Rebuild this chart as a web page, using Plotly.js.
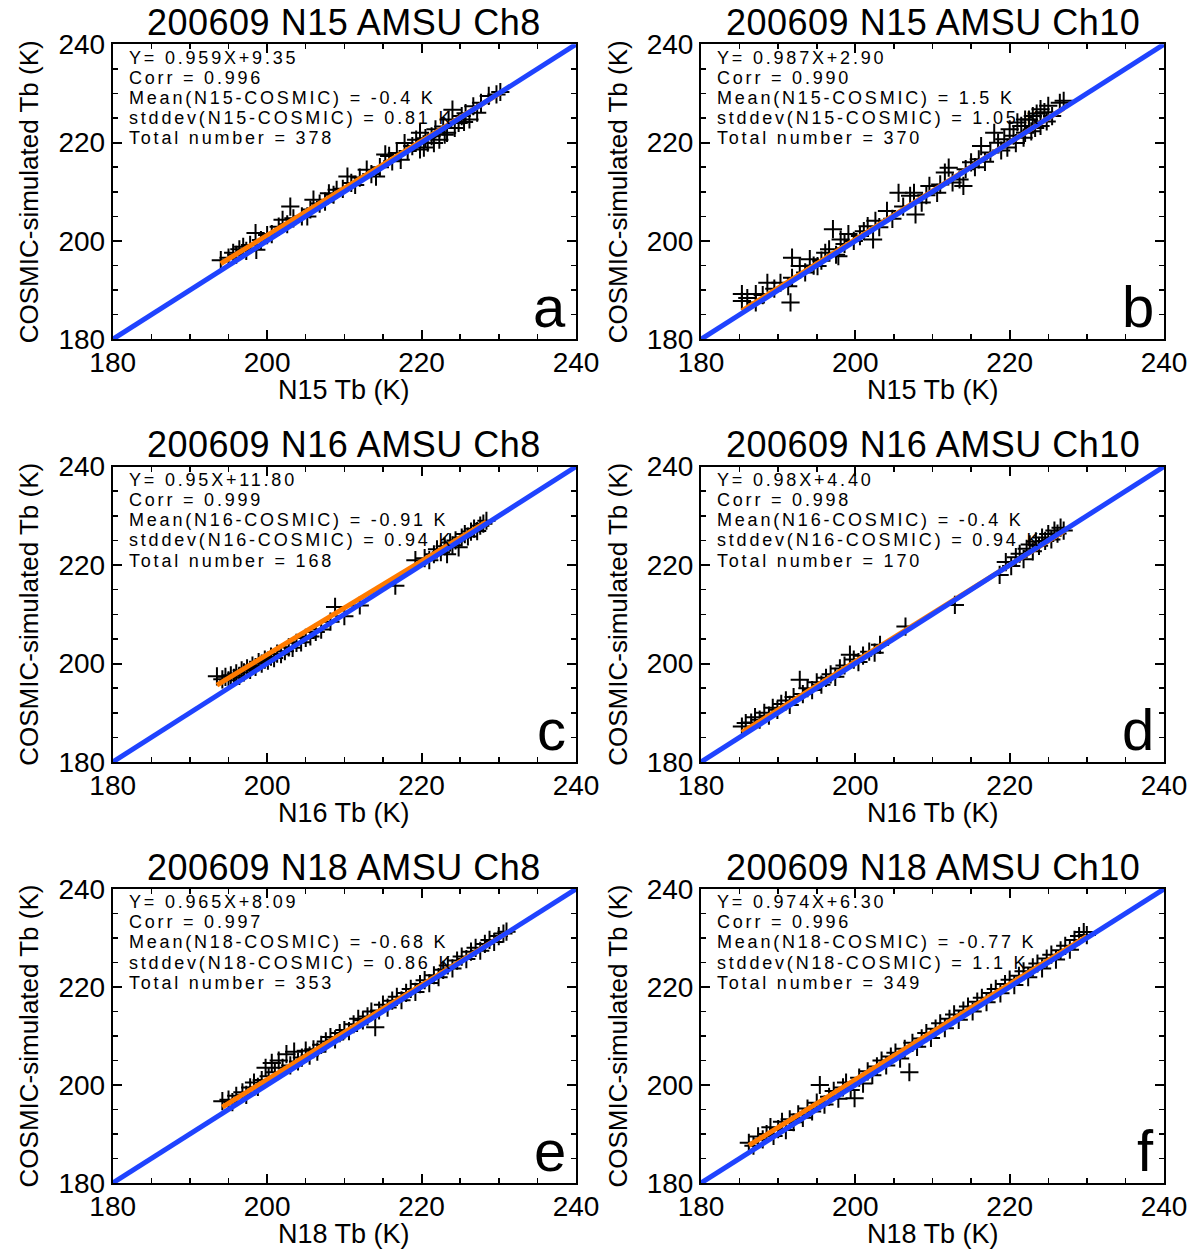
<!DOCTYPE html>
<html>
<head>
<meta charset="utf-8">
<script src="https://cdn.plot.ly/plotly-3.0.1.min.js"></script>
<style>html,body{margin:0;padding:0;background:#fff;}#chart{width:1195px;height:1249px;}</style>
</head>
<body>
<div id="chart"></div>
<script>
// ---------------- data ----------------
var panelTitles = ["200609 N15 AMSU Ch8", "200609 N15 AMSU Ch10", "200609 N16 AMSU Ch8", "200609 N16 AMSU Ch10", "200609 N18 AMSU Ch8", "200609 N18 AMSU Ch10"];
var xTitles = ["N15 Tb (K)", "N15 Tb (K)", "N16 Tb (K)", "N16 Tb (K)", "N18 Tb (K)", "N18 Tb (K)"];
var yTitle = "COSMIC-simulated Tb (K)";
var panelLetters = ["a", "b", "c", "d", "e", "f"];
var fitSlopes = [0.959, 0.987, 0.95, 0.98, 0.965, 0.974];
var fitIntercepts = [9.35, 2.90, 11.80, 4.40, 8.09, 6.30];
var statsA = ["Y= 0.959X+9.35", "Corr = 0.996", "Mean(N15-COSMIC) = -0.4 K", "stddev(N15-COSMIC) = 0.81 K", "Total number = 378"];
var statsB = ["Y= 0.987X+2.90", "Corr = 0.990", "Mean(N15-COSMIC) = 1.5 K", "stddev(N15-COSMIC) = 1.05 K", "Total number = 370"];
var statsC = ["Y= 0.95X+11.80", "Corr = 0.999", "Mean(N16-COSMIC) = -0.91 K", "stddev(N16-COSMIC) = 0.94 K", "Total number = 168"];
var statsD = ["Y= 0.98X+4.40", "Corr = 0.998", "Mean(N16-COSMIC) = -0.4 K", "stddev(N16-COSMIC) = 0.94 K", "Total number = 170"];
var statsE = ["Y= 0.965X+8.09", "Corr = 0.997", "Mean(N18-COSMIC) = -0.68 K", "stddev(N18-COSMIC) = 0.86 K", "Total number = 353"];
var statsF = ["Y= 0.974X+6.30", "Corr = 0.996", "Mean(N18-COSMIC) = -0.77 K", "stddev(N18-COSMIC) = 1.1 K", "Total number = 349"];
var oneToOne = [180, 240];
var axisTicks = [180, 200, 220, 240];

// panel a : N15 Ch8
var aX = [194.0,195.0,195.6,196.0,196.4,196.9,197.3,197.8,198.5,198.6,199.2,200.0,200.6,201.5,202.0,202.6,203.0,203.4,204.5,205.2,205.6,206.0,206.8,207.5,208.0,208.6,209.0,209.8,210.4,210.9,211.4,212.0,212.9,213.5,214.1,214.6,215.3,215.8,216.2,216.8,217.3,217.8,218.2,218.8,219.3,219.8,219.8,220.3,220.5,220.8,221.3,221.6,221.8,222.3,222.8,223.0,223.3,223.5,224.0,224.3,224.8,225.2,225.5,225.7,226.2,226.7,227.2,227.7,228.7,229.7,230.2];
var aY = [196.1,196.6,197.6,197.2,198.3,198.8,198.0,199.2,201.6,198.2,200.2,201.2,201.4,202.9,204.3,203.4,207.0,204.6,205.0,205.0,206.4,208.4,207.6,208.0,209.7,209.4,210.4,210.6,213.1,211.8,211.4,212.9,214.5,213.6,213.1,215.0,217.6,217.3,216.2,217.9,216.5,219.9,218.3,219.3,220.6,222.0,218.6,219.0,220.9,220.0,221.3,219.9,222.7,220.6,223.3,221.6,222.0,224.7,226.7,223.0,224.0,225.4,224.2,226.0,224.7,227.4,226.1,228.1,229.5,229.8,230.3];
// panel b : N15 Ch10
var bX = [185.3,185.3,186.0,187.1,187.1,188.0,188.6,189.5,190.3,191.3,191.6,191.8,191.8,192.8,193.5,194.1,194.6,195.1,195.6,196.1,196.6,197.1,197.5,197.8,198.1,198.6,199.1,199.8,200.6,201.1,201.6,202.3,202.6,203.1,204.1,204.8,205.6,206.2,207.1,207.6,207.8,208.6,209.2,209.6,210.6,211.0,211.6,212.1,212.6,213.5,214.0,214.3,215.0,215.5,216.0,216.3,216.8,217.5,218.0,218.5,218.9,219.3,219.7,220.0,220.5,220.8,221.0,221.5,221.8,222.0,222.0,222.5,222.8,223.0,223.3,223.5,224.0,224.0,224.5,224.8,225.0,225.5,226.5,227.0];
var bY = [187.8,189.2,188.4,189.2,187.5,189.0,191.5,190.3,191.5,190.8,187.5,196.6,192.5,194.9,193.6,196.3,195.0,194.9,196.0,197.6,198.3,202.4,197.2,196.9,200.3,199.4,201.4,200.0,201.0,202.0,203.0,200.3,204.1,202.8,206.1,204.5,209.8,207.0,209.2,209.8,205.4,207.8,209.3,211.2,209.8,211.5,213.9,214.9,211.9,212.5,211.2,214.6,216.0,215.0,216.6,219.3,216.1,218.0,222.0,220.0,218.4,220.7,219.0,222.7,221.4,219.9,224.1,223.4,221.0,222.0,224.7,224.7,222.3,225.4,223.0,225.9,223.4,226.8,226.2,224.3,227.5,225.4,228.1,228.5];
// panel c : N16 Ch8
var cX = [193.5,194.2,194.6,195.0,195.3,195.7,196.0,196.4,196.7,197.0,197.4,197.8,198.1,198.5,198.9,199.3,199.7,200.1,200.5,200.9,201.3,201.8,202.3,202.8,203.3,203.8,204.4,205.0,205.6,206.3,207.0,208.2,208.8,210.0,212.0,216.6,219.2,220.4,221.0,221.6,222.0,222.5,223.0,223.3,223.7,224.0,224.4,224.8,225.2,225.6,226.0,226.4,226.8,227.2,227.6,228.0,228.4];
var cY = [197.4,196.8,197.3,196.6,197.6,197.1,198.0,197.5,198.6,198.2,199.0,198.7,199.6,199.3,200.3,200.0,200.8,200.6,201.4,201.1,202.0,201.9,202.5,203.3,203.2,204.2,204.3,205.2,205.5,206.4,206.9,208.5,211.5,209.6,211.8,215.8,221.0,221.4,221.0,222.2,223.2,222.6,223.8,222.2,224.6,224.0,225.0,223.6,225.6,226.3,225.8,226.8,227.4,226.9,228.0,228.4,229.0];
// panel d : N16 Ch10
var dX = [185.3,185.8,186.5,187.0,187.6,188.2,188.8,189.3,189.9,190.4,191.0,191.5,192.0,192.8,193.2,193.8,194.4,195.0,195.6,196.2,196.8,197.4,198.0,198.6,199.3,199.8,200.4,201.0,201.8,202.5,203.2,206.5,212.9,218.7,219.5,220.2,220.8,221.3,221.8,222.2,222.6,223.0,223.4,223.8,224.2,224.6,225.0,225.4,225.8,226.2,226.6,227.0];
var dY = [187.2,187.9,188.0,189.1,188.6,190.0,189.4,191.0,190.6,191.8,192.5,191.6,193.2,196.7,193.8,195.0,194.6,196.2,195.7,197.1,197.8,197.3,199.0,199.6,201.8,200.8,200.3,201.6,202.4,202.2,203.8,207.5,211.9,218.0,220.6,219.8,221.6,222.3,221.2,223.3,224.2,222.8,224.8,223.9,225.6,224.9,226.3,225.2,227.0,226.4,227.6,227.0];
// panel e : N18 Ch8
var eX = [194.2,195.0,195.5,196.0,196.8,197.3,197.8,198.3,198.8,199.3,199.8,200.2,200.6,201.0,201.5,202.0,202.5,203.0,203.5,204.0,204.5,205.0,205.5,206.0,206.5,207.0,207.6,208.2,208.8,209.4,210.0,210.6,211.2,211.8,212.4,213.0,213.5,214.0,214.5,215.0,215.6,216.2,216.8,217.4,218.0,218.6,219.2,219.8,220.4,221.0,221.6,222.2,222.8,223.4,224.0,224.6,225.2,225.8,226.4,227.0,227.6,228.2,228.8,229.4,230.0,230.6,231.0];
var eY = [196.7,197.0,196.5,197.8,198.5,198.0,199.5,200.5,199.6,201.0,203.5,201.8,204.5,202.6,205.0,203.5,206.3,204.0,206.8,204.8,205.6,207.0,206.0,207.3,206.8,208.2,208.9,209.8,209.3,210.6,211.2,211.0,212.4,213.5,213.2,214.0,215.0,211.8,215.2,216.4,215.8,217.2,218.0,217.3,218.8,219.6,219.0,220.6,221.4,220.8,222.4,222.0,223.5,224.4,223.8,225.4,226.2,225.7,227.2,228.0,227.4,228.8,229.6,229.2,230.4,230.9,231.3];
// panel f : N18 Ch10
var fX = [186.2,186.8,187.4,188.0,188.5,189.0,189.4,190.0,190.5,191.0,191.5,192.0,192.6,193.2,193.8,194.4,195.0,195.4,196.0,196.6,197.2,197.8,198.4,198.8,199.4,199.9,200.5,201.0,201.6,202.2,202.8,203.4,204.0,204.6,205.2,205.8,206.4,207.0,207.4,208.0,208.6,209.2,209.8,210.4,211.0,211.6,212.2,212.8,213.4,214.0,214.6,215.2,215.8,216.4,217.0,217.6,218.2,218.8,219.4,220.0,220.6,221.2,221.8,222.4,223.0,223.6,224.2,224.8,225.4,226.0,226.6,227.2,227.8,228.4,229.0,229.6,230.0];
var fY = [188.2,187.6,189.5,188.9,190.0,191.4,189.6,191.0,192.5,190.8,193.0,192.4,194.0,193.3,195.2,194.6,196.4,200.0,196.0,197.6,198.8,197.2,199.5,200.5,199.0,197.3,201.5,200.3,202.8,202.0,203.8,205.0,204.0,205.8,206.6,205.4,207.4,202.6,208.6,207.8,209.5,210.6,209.6,211.5,212.6,211.6,213.5,214.4,213.3,215.2,216.0,215.0,217.0,217.8,216.9,218.8,219.6,218.7,220.6,221.5,220.4,222.3,223.2,222.0,224.0,224.8,223.8,225.8,226.6,225.6,227.5,228.4,227.6,229.6,230.4,231.2,230.6];

// ---------------- build ----------------
var xsAll = [aX, bX, cX, dX, eX, fX];
var ysAll = [aY, bY, cY, dY, eY, fY];
var statsAll = [statsA, statsB, statsC, statsD, statsE, statsF];

var W = 1195, H = 1249;
var colPx = [[112.7, 576], [701, 1164]];
var rowPx = [[44.3, 339.3], [466.6, 762], [889, 1183]];
var FONT = "Liberation Sans, Arial, Helvetica, sans-serif";
var BLUE = "#1f43ff";
var ORANGE = "#ff7b00";

var traces = [];
var layout = {
  width: W, height: H,
  margin: {l: 0, r: 0, t: 0, b: 0},
  paper_bgcolor: "#ffffff", plot_bgcolor: "#ffffff",
  showlegend: false,
  font: {family: FONT, color: "#000"},
  annotations: []
};

function spaced(s, px) { return '<span style="letter-spacing:' + px + 'px">' + s + '</span>'; }

for (var i = 0; i < 6; i++) {
  var r = Math.floor(i / 2), c = i % 2;
  var sfx = i === 0 ? "" : String(i + 1);
  var xa = "x" + sfx, ya = "y" + sfx;
  var xs = xsAll[i], ys = ysAll[i];
  traces.push({
    type: "scatter", mode: "markers", x: xs, y: ys, xaxis: xa, yaxis: ya,
    marker: {symbol: "cross-thin-open", size: 13, color: "#000", line: {color: "#000", width: 2}},
    hoverinfo: "x+y"
  });
  var xmin = Math.min.apply(null, xs), xmax = Math.max.apply(null, xs);
  var fxs = [xmin, xmax];
  traces.push({
    type: "scatter", mode: "lines", x: fxs, y: fxs.map(function (v) { return fitSlopes[i] * v + fitIntercepts[i]; }),
    xaxis: xa, yaxis: ya, line: {color: ORANGE, width: 5}
  });
  traces.push({
    type: "scatter", mode: "lines", x: oneToOne, y: oneToOne, xaxis: xa, yaxis: ya,
    line: {color: BLUE, width: 5}
  });

  var common = {
    range: [180, 240], tickmode: "array", tickvals: axisTicks,
    ticks: "inside", ticklen: 9, tickwidth: 2, tickcolor: "#000",
    showline: true, linewidth: 2, linecolor: "#000", mirror: "ticks",
    showgrid: false, zeroline: false,
    minor: {dtick: 5, tick0: 180, ticks: "inside", ticklen: 5, tickwidth: 1.5, tickcolor: "#000", showgrid: false},
    tickfont: {family: FONT, size: 28, color: "#000"}
  };
  var xax = Object.assign({}, common, {
    domain: [colPx[c][0] / W, colPx[c][1] / W],
    anchor: ya,
    ticklabelstandoff: -3
  });
  var yax = Object.assign({}, common, {
    domain: [1 - rowPx[r][1] / H, 1 - rowPx[r][0] / H],
    anchor: xa,
    ticklabelstandoff: 0,
    title: {text: yTitle, font: {family: FONT, size: 26, color: "#000"}, standoff: 12}
  });
  layout["xaxis" + sfx] = xax;
  layout["yaxis" + sfx] = yax;

  var cx = (colPx[c][0] + colPx[c][1]) / 2 / W;
  // panel title
  layout.annotations.push({
    text: spaced(panelTitles[i], 0.5), xref: "paper", yref: "paper",
    x: cx, y: 1 - (rowPx[r][0] - 22) / H,
    xanchor: "center", yanchor: "middle", showarrow: false,
    font: {family: FONT, size: 36, color: "#000"}
  });
  // x-axis title
  layout.annotations.push({
    text: xTitles[i], xref: "paper", yref: "paper",
    x: cx, y: 1 - (rowPx[r][1] + 51) / H,
    xanchor: "center", yanchor: "middle", showarrow: false,
    font: {family: FONT, size: 27, color: "#000"}
  });
  // stats text
  for (var k = 0; k < statsAll[i].length; k++) {
    layout.annotations.push({
      text: spaced(statsAll[i][k], 2.8), xref: xa, yref: ya,
      x: 182, y: 237.3 - 4.1 * k, xanchor: "left", yanchor: "middle", showarrow: false,
      font: {family: FONT, size: 18, color: "#000"}, borderpad: 0
    });
  }
  // panel letter
  layout.annotations.push({
    text: panelLetters[i], xref: xa, yref: ya, x: 239, y: 186.6,
    xanchor: "right", yanchor: "middle", showarrow: false,
    font: {family: FONT, size: 58, color: "#000"}
  });
}

Plotly.newPlot("chart", traces, layout, {displayModeBar: false, staticPlot: true});
</script>
</body>
</html>
